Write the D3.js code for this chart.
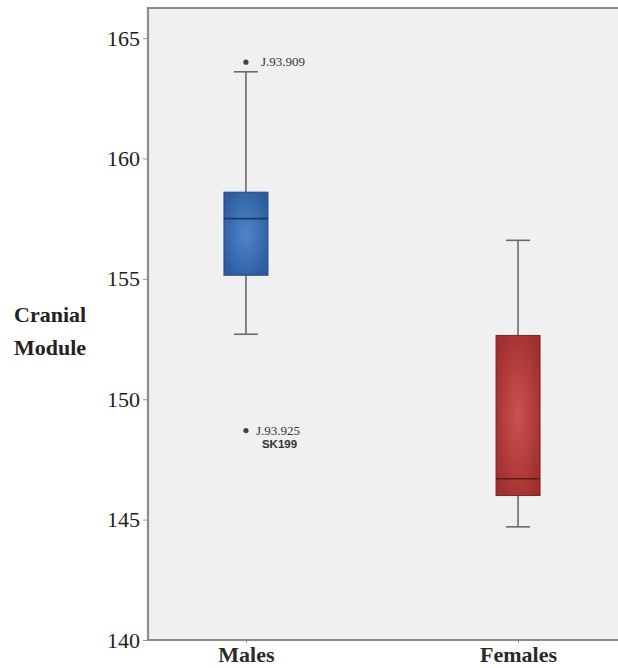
<!DOCTYPE html>
<html>
<head>
<meta charset="utf-8">
<script src="https://cdn.jsdelivr.net/npm/d3@7"></script>
<style>
  html, body { margin: 0; padding: 0; background: #ffffff; overflow: hidden; }
  svg { display: block; overflow: hidden; }
</style>
</head>
<body>
<svg id="chart" width="618" height="668"></svg>
<script>
// Cranial module by sex: five-number summaries and flagged outliers
const categories = ["Males", "Females"];
const whiskerLow  = [152.7, 144.7];
const quartile1   = [155.15, 146.0];
const medians     = [157.5, 146.7];
const quartile3   = [158.6, 152.65];
const whiskerHigh = [163.6, 156.6];
const outlierGroup  = ["Males", "Males"];
const outlierValues = [164.0, 148.7];
const outlierLabels = [["J.93.909"], ["J.93.925", "SK199"]];
const yTicks = [140, 145, 150, 155, 160, 165];

const svg = d3.select("#chart");
const plot = { left: 148, right: 660, top: 8, bottom: 640 };

const y = d3.scaleLinear().domain([140, 166.25]).range([plot.bottom, plot.top]);
const x = d3.scalePoint().domain(categories).range([plot.left, 616]).padding(0.36);

// radial shading for the boxes
const defs = svg.append("defs");
const shades = {
  Males:   { mid: "#4f86c9", edge: "#2c5c9f", stroke: "#24487a", median: "#1d3a63" },
  Females: { mid: "#cc5050", edge: "#9f2f2f", stroke: "#7a2424", median: "#5e1818" }
};
categories.forEach(c => {
  const g = defs.append("radialGradient").attr("id", "grad-" + c)
    .attr("cx", "50%").attr("cy", "50%").attr("r", "60%");
  g.append("stop").attr("offset", "0%").attr("stop-color", shades[c].mid);
  g.append("stop").attr("offset", "100%").attr("stop-color", shades[c].edge);
});

// plot background and frame (open on the right)
svg.append("rect")
  .attr("x", plot.left).attr("y", plot.top)
  .attr("width", plot.right - plot.left).attr("height", plot.bottom - plot.top)
  .attr("fill", "#f0f0f0");
svg.append("path")
  .attr("d", `M${plot.right},${plot.top}H${plot.left}V${plot.bottom}H${plot.right}`)
  .attr("fill", "none").attr("stroke", "#8c8c8c").attr("stroke-width", 2.2);

// y axis ticks and labels
const yAxis = d3.axisLeft(y).tickValues(yTicks).tickSize(4).tickPadding(3).tickFormat(d3.format("d"));
const gy = svg.append("g").attr("transform", `translate(${plot.left - 1},0)`).call(yAxis);
gy.select(".domain").remove();
gy.selectAll(".tick line").attr("stroke", "#999");
gy.selectAll(".tick text")
  .attr("font-family", "'Liberation Serif', 'DejaVu Serif', serif")
  .attr("font-size", 22).attr("fill", "#1e1e1e");

// x axis ticks and category labels
const xAxis = d3.axisBottom(x).tickSize(3).tickPadding(5);
const gx = svg.append("g").attr("transform", `translate(0,${plot.bottom})`).call(xAxis);
gx.select(".domain").remove();
gx.selectAll(".tick line").attr("stroke", "#888");
gx.selectAll(".tick text")
  .attr("font-family", "'Liberation Serif', 'DejaVu Serif', serif")
  .attr("font-weight", "bold").attr("font-size", 22).attr("fill", "#2a2a2a")
  .attr("dy", "0.62em");

// y axis title
const title = svg.append("text")
  .attr("font-family", "'Liberation Serif', 'DejaVu Serif', serif")
  .attr("font-weight", "bold").attr("font-size", 22).attr("fill", "#222");
title.append("tspan").attr("x", 14).attr("y", 322).text("Cranial");
title.append("tspan").attr("x", 14).attr("y", 355).text("Module");

// boxes
const boxW = 44, capW = 24;
categories.forEach((c, i) => {
  const cx = x(c);
  const g = svg.append("g");
  const line = (x1, y1, x2, y2) => g.append("line")
    .attr("x1", x1).attr("y1", y1).attr("x2", x2).attr("y2", y2)
    .attr("stroke", "#6a6a6a").attr("stroke-width", 1.6);
  // whiskers
  line(cx, y(whiskerHigh[i]), cx, y(quartile3[i]));
  line(cx, y(quartile1[i]), cx, y(whiskerLow[i]));
  line(cx - capW / 2, y(whiskerHigh[i]), cx + capW / 2, y(whiskerHigh[i]));
  line(cx - capW / 2, y(whiskerLow[i]), cx + capW / 2, y(whiskerLow[i]));
  // box
  g.append("rect")
    .attr("x", cx - boxW / 2).attr("y", y(quartile3[i]))
    .attr("width", boxW).attr("height", y(quartile1[i]) - y(quartile3[i]))
    .attr("fill", `url(#grad-${c})`)
    .attr("stroke", shades[c].stroke).attr("stroke-width", 1);
  // median
  g.append("line")
    .attr("x1", cx - boxW / 2).attr("x2", cx + boxW / 2)
    .attr("y1", y(medians[i])).attr("y2", y(medians[i]))
    .attr("stroke", shades[c].median).attr("stroke-width", 1.6);
});

// outliers with specimen labels
outlierValues.forEach((v, i) => {
  const cx = x(outlierGroup[i]);
  const cy = y(v);
  const lbl = outlierLabels[i];
  const dx = lbl.length > 1 ? 10 : 15;
  svg.append("circle").attr("cx", cx).attr("cy", cy).attr("r", 2.6).attr("fill", "#444");
  svg.append("text")
    .attr("x", cx + dx).attr("y", cy + 4)
    .attr("font-family", "'Liberation Serif', 'DejaVu Serif', serif")
    .attr("font-size", 13).attr("fill", "#333").text(lbl[0]);
  if (lbl[1]) {
    svg.append("text")
      .attr("x", cx + 16).attr("y", cy + 17)
      .attr("font-family", "'Liberation Sans', Arial, sans-serif")
      .attr("font-weight", "bold")
      .attr("font-size", 11.5).attr("fill", "#333").text(lbl[1]);
  }
});
</script>
</body>
</html>
